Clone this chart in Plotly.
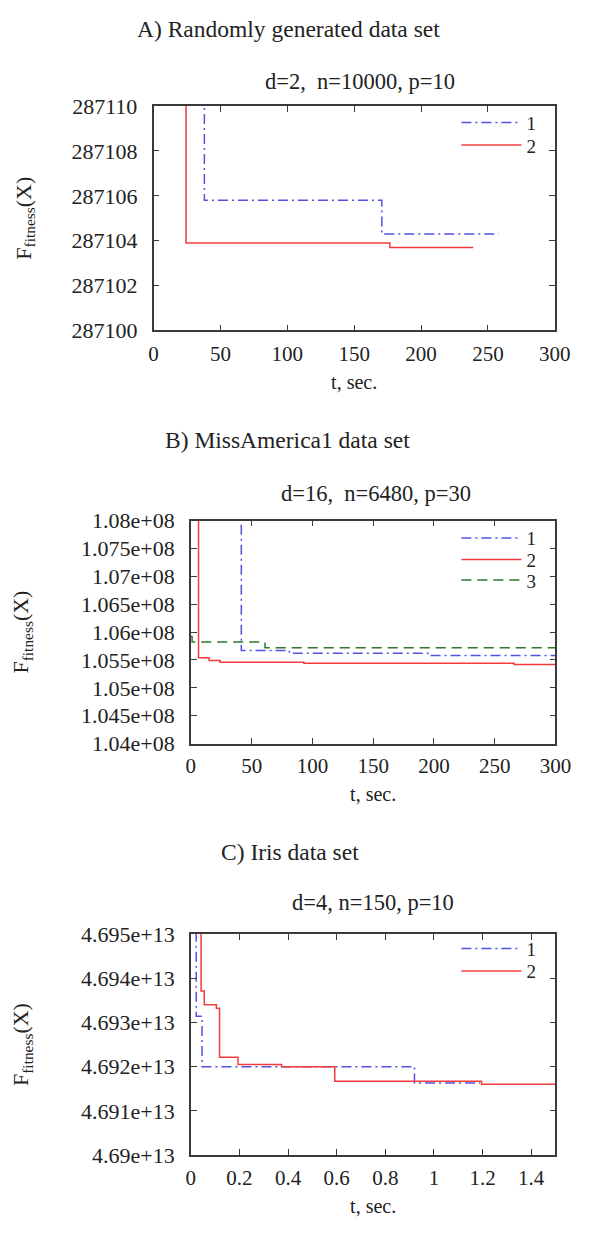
import plotly.graph_objects as go

# ---------------- data ----------------
# Panel A: Randomly generated data set
tA1 = [38.0, 38.0, 170.7, 258.0]
fA1 = [287115.0, 287105.8, 287104.3, 287104.3]
tA2 = [24.3, 24.3, 176.7, 239.0]
fA2 = [287115.0, 287103.9, 287103.7, 287103.7]

# Panel B: MissAmerica1 data set
tB1 = [41.5, 41.5, 81.0, 195.0, 300.0]
fB1 = [1.09e8, 1.0567e8, 1.0562e8, 1.0558e8, 1.0558e8]
tB2 = [6.3, 6.3, 15.0, 24.0, 93.0, 266.0, 300.0]
fB2 = [1.09e8, 1.0554e8, 1.0549e8, 1.0546e8, 1.0544e8, 1.0542e8, 1.0542e8]
tB3 = [0.0, 1.0, 61.0, 300.0]
fB3 = [1.0592e8, 1.0582e8, 1.0572e8, 1.0572e8]

# Panel C: Iris data set
tC1 = [0.022, 0.022, 0.046, 0.92, 1.19]
fC1 = [4.6955e13, 4.69314e13, 4.6920e13, 4.69163e13, 4.69163e13]
tC2 = [0.042, 0.042, 0.055, 0.105, 0.118, 0.194, 0.373, 0.592, 1.196, 1.5]
fC2 = [4.6955e13, 4.69371e13, 4.6934e13, 4.69332e13, 4.69221e13, 4.69205e13,
       4.6920e13, 4.69167e13, 4.6916e13, 4.6916e13]

# ticks
xticksA = [0, 50, 100, 150, 200, 250, 300]
xlabelsA = ["0", "50", "100", "150", "200", "250", "300"]
yticksA = [287100, 287102, 287104, 287106, 287108, 287110]
ylabelsA = ["287100", "287102", "287104", "287106", "287108", "287110"]

xticksB = [0, 50, 100, 150, 200, 250, 300]
xlabelsB = ["0", "50", "100", "150", "200", "250", "300"]
yticksB = [1.04e8, 1.045e8, 1.05e8, 1.055e8, 1.06e8, 1.065e8, 1.07e8, 1.075e8, 1.08e8]
ylabelsB = ["1.04e+08", "1.045e+08", "1.05e+08", "1.055e+08", "1.06e+08",
            "1.065e+08", "1.07e+08", "1.075e+08", "1.08e+08"]

xticksC = [0, 0.2, 0.4, 0.6, 0.8, 1.0, 1.2, 1.4]
xlabelsC = ["0", "0.2", "0.4", "0.6", "0.8", "1", "1.2", "1.4"]
yticksC = [4.690e13, 4.691e13, 4.692e13, 4.693e13, 4.694e13, 4.695e13]
ylabelsC = ["4.69e+13", "4.691e+13", "4.692e+13", "4.693e+13", "4.694e+13", "4.695e+13"]

XTITLE = "t, sec."
YTITLE = "F<sub>fitness</sub>(X)"

# ---------------- styling ----------------
W, H = 592, 1236
FONT = "Liberation Serif, Times New Roman, serif"
BLUE = "#5252e6"
RED = "#f23c3c"
GREEN = "#2a7a2a"
AX = "#3a3a3a"
TXT = "#222222"

def px(x):
    return x / W

def py(y):
    return 1 - y / H

fig = go.Figure()

def add(t, f, name, color, dash, xa, ya, legend):
    fig.add_trace(go.Scatter(
        x=t, y=f, mode="lines", name=name, line_shape="hv",
        line=dict(color=color, width=1.5, dash=dash),
        xaxis=xa, yaxis=ya, legend=legend, showlegend=True,
    ))

DASHDOT = "10px,4px,2px,4px"
DASH = "10px,6px"
add(tA1, fA1, "1", BLUE, DASHDOT, "x", "y", "legend")
add(tA2, fA2, "2", RED, "solid", "x", "y", "legend2")
add(tB1, fB1, "1", BLUE, DASHDOT, "x2", "y2", "legend3")
add(tB2, fB2, "2", RED, "solid", "x2", "y2", "legend4")
add(tB3, fB3, "3", GREEN, DASH, "x2", "y2", "legend5")
add(tC1, fC1, "1", BLUE, DASHDOT, "x3", "y3", "legend6")
add(tC2, fC2, "2", RED, "solid", "x3", "y3", "legend7")

def axis(domain, rng, tv, tt, anchor, standoff, size, title, tsize, tstand):
    return dict(
        domain=domain, range=rng, tickvals=tv, ticktext=tt, anchor=anchor,
        showline=True, linecolor=AX, linewidth=1.5, mirror="ticks",
        ticks="inside", ticklen=6, tickwidth=1, tickcolor=AX,
        showgrid=False, zeroline=False, fixedrange=True,
        tickfont=dict(family=FONT, size=size, color=TXT),
        ticklabelstandoff=standoff, ticklabeloverflow="allow",
        title=dict(text=title, font=dict(family=FONT, size=tsize, color=TXT),
                   standoff=tstand),
    )

domA_x = [px(154), px(570)]
domA_y = [py(325), py(96)]
domB_x = [px(192.7), px(570.7)]
domB_y = [py(746.7), py(519)]
domC_x = [px(192.7), px(570.7)]
domC_y = [py(1166.7), py(941)]

fig.update_layout(
    width=W, height=H, autosize=False, showlegend=True,
    margin=dict(l=0, r=0, t=0, b=0, pad=0),
    paper_bgcolor="white", plot_bgcolor="white",
    font=dict(family=FONT, color=TXT),
    xaxis=axis(domA_x, [0, 300], xticksA, xlabelsA, "y", 4, 21, XTITLE, 20, 10),
    yaxis=axis(domA_y, [287100, 287110], yticksA, ylabelsA, "x", 10, 22, YTITLE, 22, 34),
    xaxis2=axis(domB_x, [0, 300], xticksB, xlabelsB, "y2", 2, 21, XTITLE, 20, 10),
    yaxis2=axis(domB_y, [1.04e8, 1.08e8], yticksB, ylabelsB, "x2", 10, 22, YTITLE, 22, 46),
    xaxis3=axis(domC_x, [0, 1.5], xticksC, xlabelsC, "y3", 3, 21, XTITLE, 20, 10),
    yaxis3=axis(domC_y, [4.69e13, 4.695e13], yticksC, ylabelsC, "x3", 10, 22, YTITLE, 22, 46),
)

def legend_at(x, y):
    return dict(
        x=px(x), y=py(y), xanchor="left", yanchor="middle",
        bgcolor="rgba(0,0,0,0)", borderwidth=0,
        font=dict(family=FONT, size=19, color=TXT),
        itemwidth=60, tracegroupgap=0, visible=True,
    )

fig.update_layout(
    legend=legend_at(468, 113),
    legend2=legend_at(468, 136),
    legend3=legend_at(468, 537),
    legend4=legend_at(468, 559),
    legend5=legend_at(468, 580),
    legend6=legend_at(468, 956),
    legend7=legend_at(468, 979),
)

annos = []
def text(x, y, s, size, angle=0):
    annos.append(dict(
        x=px(x), y=py(y), xref="paper", yref="paper", text=s, showarrow=False,
        xanchor="center", yanchor="middle", textangle=angle,
        font=dict(family=FONT, size=size, color=TXT),
    ))

text(294, 17, "A) Randomly generated data set", 23.5)
text(368, 71, "d=2,\u00a0 n=10000, p=10", 22.5)

text(293, 437, "B) MissAmerica1 data set", 23.5)
text(385, 491, "d=16,\u00a0 n=6480, p=30", 22.5)

text(295, 857, "C) Iris data set", 23.5)
text(382, 909, "d=4, n=150, p=10", 22.5)

fig.update_layout(annotations=annos)

fig.write_html("out.html")
